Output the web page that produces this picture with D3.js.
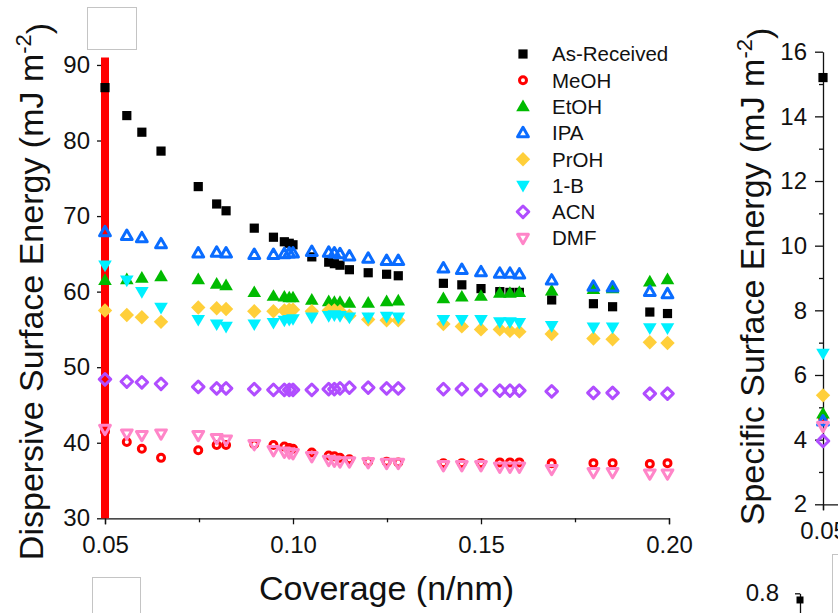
<!DOCTYPE html>
<html>
<head>
<meta charset="utf-8">
<script src="https://cdnjs.cloudflare.com/ajax/libs/d3/7.8.5/d3.min.js"></script>
<style>
    body { margin: 0; background: #fff; }
    svg text { font-family: "Liberation Sans", Arial, sans-serif; fill: #111; }
</style>
</head>
<body>
<div id="chart"></div>
<script>
// coverage values (n/nm), shared by all series
const coverage = [0.0500, 0.0558, 0.0598, 0.0649, 0.0748, 0.0797, 0.0822, 0.0897, 0.0948, 0.0977,
    0.0990, 0.1000, 0.1050, 0.1095, 0.1110, 0.1125, 0.1150, 0.1200, 0.1249, 0.1280,
    0.1400, 0.1449, 0.1500, 0.1550, 0.1577, 0.1602, 0.1688, 0.1799, 0.1850, 0.1949, 0.1996];

const seriesNames = ["As-Received", "MeOH", "EtOH", "IPA", "PrOH", "1-B", "ACN", "DMF"];

// dispersive surface energy (mJ m-2)
const asReceived = [87.0, 83.3, 81.1, 78.6, 73.9, 71.6, 70.7, 68.4, 67.2, 66.6,
    66.4, 66.2, 64.6, 63.9, 63.7, 63.5, 62.9, 62.5, 62.3, 62.1,
    61.1, 60.9, 60.4, 60.0, 59.9, 59.9, 58.9, 58.4, 58.0, 57.3, 57.1];
const meoh = [41.5, 40.1, 39.2, 38.0, 39.0, 39.7, 39.7, 39.8, 39.7, 39.5,
    39.3, 39.2, 38.7, 38.3, 38.2, 38.0, 37.8, 37.5, 37.5, 37.4,
    37.3, 37.3, 37.3, 37.4, 37.4, 37.4, 37.3, 37.3, 37.3, 37.2, 37.3];
const etoh = [61.5, 61.6, 61.8, 62.0, 61.6, 61.0, 60.8, 59.9, 59.4, 59.3,
    59.2, 59.2, 58.9, 58.7, 58.6, 58.6, 58.5, 58.5, 58.7, 58.8,
    59.1, 59.3, 59.4, 59.8, 59.8, 59.9, 60.1, 60.3, 60.4, 61.3, 61.6];
const ipa = [67.9, 67.4, 67.1, 66.3, 65.1, 65.2, 65.1, 64.9, 64.9, 65.0,
    65.1, 65.1, 65.3, 65.2, 65.1, 65.0, 64.7, 64.4, 64.1, 64.1,
    63.1, 62.9, 62.6, 62.4, 62.4, 62.3, 61.5, 60.7, 60.6, 60.0, 59.7];
const proh = [57.5, 56.9, 56.6, 56.0, 57.9, 57.8, 57.7, 57.4, 57.4, 57.5,
    57.6, 57.6, 57.4, 57.5, 57.5, 57.4, 56.8, 56.3, 56.2, 56.2,
    55.7, 55.4, 55.0, 55.0, 54.8, 54.7, 54.4, 53.8, 53.7, 53.3, 53.2];
const butanol = [63.5, 61.5, 60.0, 57.9, 56.3, 55.7, 55.4, 55.7, 55.9, 56.2,
    56.3, 56.4, 56.6, 56.8, 56.9, 56.8, 56.6, 56.6, 56.7, 56.6,
    56.3, 56.3, 56.3, 56.0, 56.0, 55.9, 55.5, 55.3, 55.3, 55.2, 55.2];
const acn = [48.4, 48.1, 48.0, 47.8, 47.4, 47.2, 47.2, 47.1, 47.0, 47.0,
    47.0, 47.0, 47.0, 47.1, 47.1, 47.2, 47.3, 47.3, 47.2, 47.2,
    47.1, 47.1, 47.0, 46.9, 46.9, 46.9, 46.8, 46.6, 46.6, 46.5, 46.5];
const dmf = [41.8, 41.2, 41.0, 41.2, 41.0, 40.6, 40.4, 39.8, 39.0, 38.8,
    38.7, 38.6, 38.2, 37.7, 37.6, 37.5, 37.5, 37.4, 37.3, 37.3,
    37.0, 37.0, 37.0, 36.8, 36.8, 36.8, 36.5, 36.1, 36.1, 35.9, 35.9];

// specific surface energy (mJ m-2) at 0.05 n/nm, same order as seriesNames
const specificEnergy = [15.2, 4.68, 4.8, 4.57, 5.37, 6.67, 3.96, 4.42];
const specificCoverage = 0.05;

// partial third panel, bottom right
const lowerValue = 0.79;

const yTicksLeft = [30, 40, 50, 60, 70, 80, 90];
const xTicksLeft = [0.05, 0.10, 0.15, 0.20];
const xMinorLeft = [0.075, 0.125, 0.175];
const yTicksRight = [2, 4, 6, 8, 10, 12, 14, 16];
const yMinorRight = [3, 5, 7, 9, 11, 13, 15];
const yTicksLower = [0.8];

const seriesValues = [asReceived, meoh, etoh, ipa, proh, butanol, acn, dmf];

// marker styles
const markerStyle = [
    { shape: "square", fill: "#000", stroke: "none" },
    { shape: "circle", fill: "none", stroke: "#ff0000" },
    { shape: "triUp", fill: "#00bb00", stroke: "none" },
    { shape: "triUpOpen", fill: "none", stroke: "#0a6cff" },
    { shape: "diamond", fill: "#ffcf3a", stroke: "none" },
    { shape: "triDown", fill: "#00f0ff", stroke: "none" },
    { shape: "diamondOpen", fill: "none", stroke: "#b04dff" },
    { shape: "triDownOpen", fill: "none", stroke: "#ff85c8" }
];

function markerPath(shape) {
    switch (shape) {
        case "square": return "M-4.6,-4.6h9.2v9.2h-9.2Z";
        case "circle": return d3.symbol(d3.symbolCircle, Math.PI * 3.5 * 3.5)();
        case "triUp": return "M0,-7L6.8,4.7L-6.8,4.7Z";
        case "triUpOpen": return "M0,-5.6L5.4,3.8L-5.4,3.8Z";
        case "triDown": return "M0,7L6.8,-4.7L-6.8,-4.7Z";
        case "triDownOpen": return "M0,5.6L5.4,-3.8L-5.4,-3.8Z";
        case "diamond": return "M0,-7.2L7.2,0L0,7.2L-7.2,0Z";
        case "diamondOpen": return "M0,-5.8L5.8,0L0,5.8L-5.8,0Z";
    }
}

function drawMarker(sel, st) {
    sel.attr("d", markerPath(st.shape))
        .style("fill", st.fill)
        .style("stroke", st.stroke)
        .style("stroke-linejoin", "round")
        .style("stroke-width", st.stroke == "none" ? null : "3px");
}

const W = 838, H = 613;

const svg = d3.select("#chart")
    .append("svg")
    .attr("width", W)
    .attr("height", H);

// ---------- main panel ----------
const xL = d3.scaleLinear().domain([0.05, 0.20]).range([105, 669]);
const yL = d3.scaleLinear().domain([30, 91]).range([518.3, 57.4]);

function styleAxis(g) {
    g.select(".domain").style("stroke", "#111").style("stroke-width", "1.3px");
    g.selectAll(".tick line").style("stroke", "#111").style("stroke-width", "1.3px");
    g.selectAll(".tick text").style("font-size", "24px").style("fill", "#111")
        .style("font-family", "'Liberation Sans', Arial, sans-serif");
}

const xAxisL = svg.append("g")
    .attr("transform", "translate(0," + yL(30) + ")")
    .call(d3.axisBottom(xL).tickValues(xTicksLeft).tickSize(6).tickPadding(12).tickFormat(d3.format(".2f")));
styleAxis(xAxisL);

svg.append("g")
    .attr("transform", "translate(0," + yL(30) + ")")
    .call(d3.axisBottom(xL).tickValues(xMinorLeft).tickSize(4).tickFormat(""))
    .call(g => g.select(".domain").remove())
    .call(styleAxis);

const yAxisL = svg.append("g")
    .attr("transform", "translate(" + xL(0.05) + ",0)")
    .call(d3.axisLeft(yL).tickValues(yTicksLeft).tickSize(8).tickPadding(7).tickSizeOuter(0));
styleAxis(yAxisL);

// red highlight bar at the first coverage value
svg.append("line")
    .attr("x1", xL(0.05)).attr("x2", xL(0.05))
    .attr("y1", yL(30)).attr("y2", yL(91))
    .style("stroke", "#ff0000")
    .style("stroke-width", "8px");

seriesValues.forEach((vals, i) => {
    svg.append("g")
        .selectAll("path")
        .data(vals)
        .join("path")
        .attr("transform", (d, j) => "translate(" + xL(coverage[j]) + "," + yL(d) + ")")
        .call(drawMarker, markerStyle[i]);
});

// axis titles
svg.append("text")
    .attr("x", (xL(0.05) + xL(0.20)) / 2 - 0.5)
    .attr("y", 600)
    .attr("text-anchor", "middle")
    .style("font-size", "34px")
    .text("Coverage (n/nm)");

function energyTitle(x, y, label) {
    const t = svg.append("text")
        .attr("transform", "translate(" + x + "," + y + ") rotate(-90)")
        .attr("text-anchor", "middle")
        .style("font-size", "34px");
    t.append("tspan").text(label + " (mJ m");
    t.append("tspan").attr("dy", "-0.55em").style("font-size", "22px").text("-2");
    t.append("tspan").attr("dy", "0.55em").text(")");
}
energyTitle(43, 291.5, "Dispersive Surface Energy");

// legend
const legend = svg.append("g");
seriesNames.forEach((name, i) => {
    const ly = 54 + i * 26.3;
    legend.append("path")
        .attr("transform", "translate(523," + ly + ")")
        .call(drawMarker, markerStyle[i]);
    legend.append("text")
        .attr("x", 552)
        .attr("y", ly)
        .attr("dy", "0.36em")
        .style("font-size", "20.5px")
        .text(name);
});

// ---------- right panel (partly cut off) ----------
const xR = d3.scaleLinear().domain([0.05, 0.20]).range([823, 1387]);
const yR = d3.scaleLinear().domain([2, 16]).range([504.3, 51.7]);

const xAxisR = svg.append("g")
    .attr("transform", "translate(0," + yR(2) + ")")
    .call(d3.axisBottom(xR).tickValues([0.05]).tickSize(6).tickPadding(12).tickFormat(d3.format(".2f")));
styleAxis(xAxisR);

const yAxisR = svg.append("g")
    .attr("transform", "translate(" + xR(0.05) + ",0)")
    .call(d3.axisLeft(yR).tickValues(yTicksRight).tickSize(8).tickPadding(8).tickSizeOuter(0));
styleAxis(yAxisR);

svg.append("g")
    .attr("transform", "translate(" + xR(0.05) + ",0)")
    .call(d3.axisLeft(yR).tickValues(yMinorRight).tickSize(4).tickFormat(""))
    .call(g => g.select(".domain").remove())
    .call(styleAxis);

specificEnergy.forEach((v, i) => {
    svg.append("path")
        .attr("transform", "translate(" + xR(specificCoverage) + "," + yR(v) + ")")
        .call(drawMarker, markerStyle[i]);
});

energyTitle(764, 276.5, "Specific Surface Energy");

// ---------- lower-right panel stub ----------
const yB = d3.scaleLinear().domain([0.7, 0.8]).range([660, 593.3]);
const yAxisB = svg.append("g")
    .attr("transform", "translate(800,0)")
    .call(d3.axisLeft(yB).tickValues(yTicksLower).tickSize(5).tickPadding(16).tickSizeOuter(0).tickFormat(d3.format(".1f")));
styleAxis(yAxisB);

svg.append("path")
    .attr("transform", "translate(800," + yB(lowerValue) + ")")
    .attr("d", "M-3.5,-3.5h7v7h-7Z")
    .style("fill", "#000");

// empty frames left over from the figure layout
[[87, 7, 49, 42], [92, 577, 48, 50], [832, 554, 20, 70]].forEach(b => {
    svg.append("rect")
        .attr("x", b[0] + 0.5).attr("y", b[1] + 0.5)
        .attr("width", b[2]).attr("height", b[3])
        .style("fill", "none")
        .style("stroke", "#c4c4c4")
        .style("stroke-width", "1px");
});
</script>
</body>
</html>
